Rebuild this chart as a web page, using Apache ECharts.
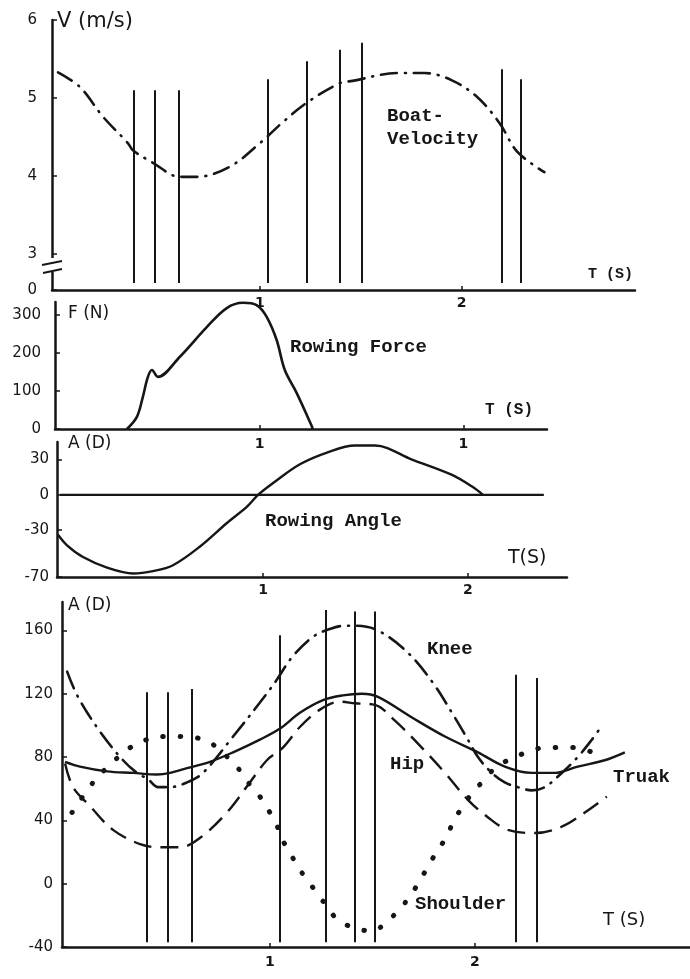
<!DOCTYPE html>
<html>
<head>
<meta charset="utf-8">
<script src="https://cdn.jsdelivr.net/npm/echarts@6/dist/echarts.min.js"></script>
<style>
html, body { margin: 0; background: #fff; }
#container { width: 690px; height: 979px; }
</style>
</head>
<body>
<div id="container"></div>
<script>
// boat velocity (m/s) against time (s)
var velT = [0, 0.109, 0.223, 0.347, 0.371, 0.470, 0.604, 0.688, 0.851, 1.0, 1.114, 1.233, 1.396, 1.460, 1.683, 1.817, 1.950, 2.079, 2.188, 2.277, 2.411];
var velV = [5.33, 5.14, 4.76, 4.42, 4.33, 4.17, 3.99, 3.99, 4.12, 4.42, 4.69, 4.94, 5.19, 5.22, 5.32, 5.32, 5.23, 5.01, 4.68, 4.31, 4.05];

// rowing force (N)
var forceT = [0.348, 0.397, 0.426, 0.451, 0.471, 0.5, 0.608, 0.74, 0.838, 0.917, 0.985, 1.034, 1.083, 1.123, 1.181, 1.255, 1.26];
var forceF = [0, 32, 84, 137, 155, 137, 190, 268, 318, 332, 326, 295, 234, 155, 95, 8, 0];

// rowing angle (deg)
var angleT = [0, 0.044, 0.122, 0.239, 0.366, 0.463, 0.561, 0.693, 0.824, 0.922, 0.976, 1.049, 1.18, 1.312, 1.449, 1.546, 1.727, 1.922, 2.02, 2.073];
var angleA = [-34, -43, -53, -62, -67, -65, -60, -44, -24, -10, 0, 10, 26, 36, 42, 42, 30, 17, 7, 0];
var zeroT = [0.01, 2.37];
var zeroA = [0, 0];

// joint angles (deg)
var kneeT = [0.01, 0.063, 0.171, 0.283, 0.351, 0.405, 0.454, 0.512, 0.595, 0.673, 0.82, 0.966, 1.034, 1.107, 1.21, 1.293, 1.366, 1.415, 1.527, 1.673, 1.795, 1.902, 1.966, 2.015, 2.083, 2.146, 2.21, 2.278, 2.341, 2.424, 2.502, 2.571, 2.61];
var kneeA = [134, 118, 96, 78, 70, 66, 61, 61, 64, 70, 93, 117, 129, 143, 156, 161, 163, 163, 160, 146, 127, 105, 91, 80, 70, 64, 61, 59, 61, 70, 80, 91, 98];

var hipT = [0, 0.039, 0.122, 0.234, 0.366, 0.463, 0.561, 0.659, 0.79, 0.902, 0.985, 1.063, 1.146, 1.244, 1.341, 1.415, 1.512, 1.61, 1.741, 1.854, 1.966, 2.063, 2.161, 2.293, 2.424, 2.537, 2.644];
var hipA = [76, 61, 49, 34, 25, 23, 23, 29, 45, 64, 78, 86, 99, 110, 115, 114, 113, 103, 86, 70, 53, 42, 34, 32, 36, 45, 55];

var trunkT = [0, 0.073, 0.205, 0.332, 0.449, 0.512, 0.595, 0.707, 0.82, 0.951, 1.049, 1.146, 1.259, 1.356, 1.449, 1.527, 1.693, 1.854, 2.015, 2.146, 2.278, 2.39, 2.502, 2.634, 2.732];
var trunkA = [77, 74, 71, 70, 69, 70, 73, 77, 83, 91, 98, 108, 116, 119, 120, 118, 105, 93, 83, 74, 70, 70, 74, 78, 83];

var shoulderT = [0.034, 0.137, 0.21, 0.307, 0.38, 0.454, 0.551, 0.649, 0.722, 0.844, 0.893, 0.951, 0.99, 1.034, 1.049, 1.098, 1.132, 1.18, 1.229, 1.283, 1.341, 1.502, 1.561, 1.634, 1.693, 1.741, 1.78, 1.829, 1.868, 1.893, 1.937, 1.985, 2.034, 2.098, 2.161, 2.254, 2.341, 2.424, 2.502, 2.571];
var shoulderA = [45, 64, 74, 85, 90, 93, 93, 92, 88, 73, 64, 55, 47, 37, 30, 20, 11, 3, -6, -15, -24, -30, -25, -16, -6, 4, 13, 23, 31, 39, 48, 57, 64, 73, 78, 83, 86, 86, 86, 83];

// vertical phase lines
var velLineT = [0.376, 0.48, 0.599, 1.04, 1.233, 1.396, 1.505, 2.198, 2.292];
var velLineTop = [5.10, 5.10, 5.10, 5.24, 5.47, 5.62, 5.71, 5.37, 5.24];
var jointLineT = [0.40, 0.50, 0.62, 1.05, 1.27, 1.415, 1.51, 2.20, 2.30];
var jointLineTop = [121, 121, 123, 157, 173, 172, 172, 132, 130];

// tick labels
var velYTicks = [2.54, 3, 4, 5, 6];
var forceYTicks = [0, 100, 200, 300];
var angleYTicks = [-70, -30, 0, 30];
var jointYTicks = [-40, 0, 40, 80, 120, 160];
var timeTicks = [1, 2];
var forceTimeText = ['1', '1'];

var ink = '#161616';
var mono = '"Liberation Mono", "DejaVu Sans Mono", monospace';
var hand = '"DejaVu Sans", sans-serif';

function pairs(xs, ys) {
    return xs.map(function (x, i) { return [x, ys[i]]; });
}

function uprights(times, tops, bottom) {
    return times.map(function (t, i) {
        return [{ coord: [t, bottom] }, { coord: [t, tops[i]] }];
    });
}

function xAxis(grid, min, max, margin, fmt) {
    return {
        type: 'value', gridIndex: grid, min: min, max: max,
        axisLine: { onZero: false, lineStyle: { color: ink, width: 2.5 } },
        axisTick: { customValues: timeTicks, inside: true, length: 4, lineStyle: { color: ink, width: 1.5 } },
        axisLabel: { customValues: timeTicks, margin: margin, color: ink, fontSize: 14, fontWeight: 'bold', fontFamily: hand, formatter: fmt },
        splitLine: { show: false }
    };
}

function yAxis(grid, min, max, ticks, margin, fmt) {
    return {
        type: 'value', gridIndex: grid, min: min, max: max,
        axisLine: { show: true, onZero: false, lineStyle: { color: ink, width: 2.5 } },
        axisTick: { customValues: ticks, inside: true, length: 5, lineStyle: { color: ink, width: 1.5 } },
        axisLabel: { customValues: ticks, margin: margin, color: ink, fontSize: 15, fontFamily: hand, formatter: fmt },
        splitLine: { show: false }
    };
}

function curve(name, x, y, data, dash, width, cap) {
    return {
        name: name, type: 'line', xAxisIndex: x, yAxisIndex: y,
        data: data, symbol: 'none', smooth: 0.35,
        lineStyle: { color: ink, width: width, type: dash, cap: cap || 'butt' }
    };
}

function label(text, left, top, size, font) {
    var weight = font ? 'normal ' : 'bold ';
    return {
        type: 'text', left: left, top: top,
        style: { text: text, fill: ink, font: weight + size + 'px ' + (font || mono) }
    };
}

var chart = echarts.init(document.getElementById('container'));

var velocity = curve('Boat-Velocity', 0, 0, pairs(velT, velV), [16, 8, 1, 8], 2.6, 'round');
velocity.markLine = {
    silent: true, symbol: ['none', 'none'], label: { show: false },
    lineStyle: { color: ink, width: 2, type: 'solid' },
    data: uprights(velLineT, velLineTop, 2.63)
};

var trunk = curve('Trunk', 3, 3, pairs(trunkT, trunkA), 'solid', 2.4);
trunk.markLine = {
    silent: true, symbol: ['none', 'none'], label: { show: false },
    lineStyle: { color: ink, width: 2, type: 'solid' },
    data: uprights(jointLineT, jointLineTop, -37)
};

var option = {
    animation: false,
    backgroundColor: '#fff',
    grid: [
        { left: 52, top: 20, width: 583, height: 270 },
        { left: 55, top: 302, width: 492, height: 127 },
        { left: 57, top: 442, width: 510, height: 135 },
        { left: 62, top: 602, width: 628, height: 345 }
    ],
    xAxis: [
        xAxis(0, -0.03, 2.86, 6),
        xAxis(1, -0.005, 2.41, 8, function (v) { return forceTimeText[timeTicks.indexOf(v)]; }),
        xAxis(2, -0.005, 2.483, 6),
        xAxis(3, -0.015, 3.05, 8)
    ],
    yAxis: [
        yAxis(0, 2.54, 6, velYTicks, 15, function (v) { return v < 3 ? '0' : v; }),
        yAxis(1, 0, 334, forceYTicks, 14),
        yAxis(2, -70, 45, angleYTicks, 8),
        yAxis(3, -40, 178, jointYTicks, 9)
    ],
    series: [
        velocity,
        curve('Rowing Force', 1, 1, pairs(forceT, forceF), 'solid', 2.6),
        curve('Rowing Angle', 2, 2, pairs(angleT, angleA), 'solid', 2.4),
        curve('Zero', 2, 2, pairs(zeroT, zeroA), 'solid', 2.4),
        curve('Knee', 3, 3, pairs(kneeT, kneeA), [18, 8, 1, 8], 2.6, 'round'),
        curve('Hip', 3, 3, pairs(hipT, hipA), [18, 9], 2.4),
        trunk,
        curve('Shoulder', 3, 3, pairs(shoulderT, shoulderA), [0.5, 17], 5, 'round')
    ],
    graphic: [
        // axis break on the velocity axis
        { type: 'rect', shape: { x: 44, y: 258, width: 16, height: 14 }, style: { fill: '#fff' }, z: 100 },
        { type: 'line', shape: { x1: 42, y1: 265, x2: 62, y2: 261 }, style: { stroke: ink, lineWidth: 2 }, z: 101 },
        { type: 'line', shape: { x1: 43, y1: 273, x2: 62, y2: 269 }, style: { stroke: ink, lineWidth: 2 }, z: 101 },
        label('V (m/s)', 57, 11, 21, hand),
        label('T (S)', 588, 267, 15),
        label('Boat-', 387, 107, 19),
        label('Velocity', 387, 130, 19),
        label('F (N)', 68, 305, 17, hand),
        label('Rowing Force', 290, 338, 19),
        label('T (S)', 485, 402, 16),
        label('A (D)', 68, 435, 17, hand),
        label('Rowing Angle', 265, 512, 19),
        label('T(S)', 508, 549, 19, hand),
        label('A (D)', 68, 597, 17, hand),
        label('Knee', 427, 640, 19),
        label('Hip', 390, 755, 19),
        label('Truak', 613, 768, 19),
        label('Shoulder', 415, 895, 19),
        label('T (S)', 603, 911, 18, hand)
    ]
};

chart.setOption(option);
</script>
</body>
</html>
